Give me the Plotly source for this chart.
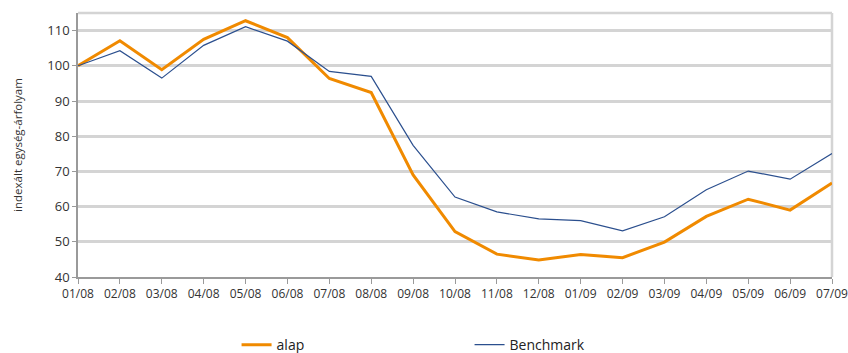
import plotly.graph_objects as go

months = ["01/08", "02/08", "03/08", "04/08", "05/08", "06/08", "07/08", "08/08", "09/08", "10/08",
          "11/08", "12/08", "01/09", "02/09", "03/09", "04/09", "05/09", "06/09", "07/09"]
alap = [100, 107.1, 98.9, 107.5, 112.8, 108.0, 96.4, 92.4, 69.0, 52.9,
        46.5, 44.8, 46.4, 45.5, 49.9, 57.2, 62.1, 59.0, 66.7]
benchmark = [100, 104.3, 96.5, 105.8, 111.1, 107.0, 98.4, 97.0, 77.4, 62.7,
             58.5, 56.5, 56.0, 53.1, 57.1, 64.8, 70.1, 67.8, 75.1]
y_ticks = [40, 50, 60, 70, 80, 90, 100, 110]

font = "Open Sans, Noto Sans, DejaVu Sans, sans-serif"
fig = go.Figure()
fig.add_trace(go.Scatter(x=months, y=alap, mode="lines", name="alap",
                         line=dict(color="#F08A00", width=3)))
fig.add_trace(go.Scatter(x=months, y=benchmark, mode="lines", name="Benchmark",
                         line=dict(color="#2B4F8E", width=1.2)))

fig.update_layout(
    width=848, height=353,
    margin=dict(l=78, r=16, t=13, b=76, autoexpand=False),
    plot_bgcolor="white", paper_bgcolor="white",
    font=dict(family=font, size=12, color="#333333"),
    showlegend=True,
    legend=dict(orientation="h", xref="paper", yref="paper",
                x=0.2103, xanchor="left", y=-0.258, yanchor="middle",
                font=dict(size=14, color="#222222"),
                entrywidth=188, entrywidthmode="pixels",
                bgcolor="rgba(0,0,0,0)"),
    xaxis=dict(type="category", range=[0, 18], showgrid=False, automargin=False,
               showline=True, linecolor="#9a9a9a", linewidth=1.5,
               ticks="outside", ticklen=5, tickcolor="#9a9a9a",
               tickfont=dict(size=12, color="#333333"),
               mirror=False, zeroline=False),
    yaxis=dict(range=[40, 115], tickvals=y_ticks, showgrid=True, automargin=False,
               gridcolor="#d4d4d4", gridwidth=2.5,
               showline=True, linecolor="#9a9a9a", linewidth=1.5,
               ticks="outside", ticklen=4, tickcolor="#9a9a9a",
               tickfont=dict(size=13, color="#333333"),
               title=dict(text="indexált egység-árfolyam", font=dict(size=11.5, color="#333333"), standoff=22),
               zeroline=False),
    shapes=[
        dict(type="line", xref="paper", yref="paper", x0=0, x1=1, y0=1, y1=1,
             line=dict(color="#d4d4d4", width=2.5), layer="below"),
        dict(type="line", xref="paper", yref="paper", x0=1, x1=1, y0=0, y1=1,
             line=dict(color="#d4d4d4", width=2.5), layer="below"),
    ],
)

fig.write_html("out.html", config={"displayModeBar": False},
               post_script="document.body.style.margin='0';document.body.style.overflow='hidden';")
